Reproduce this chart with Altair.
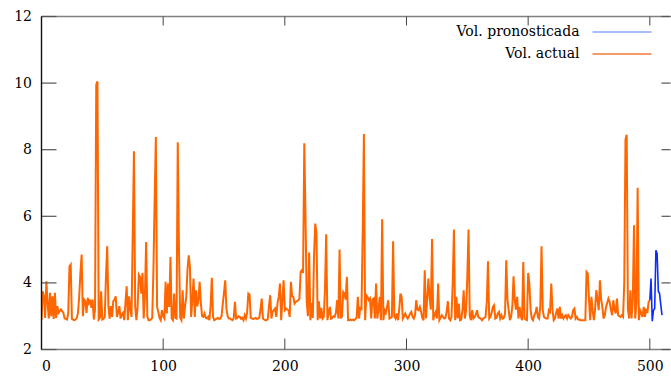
import altair as alt
import pandas as pd

# ---- data ----
actual_values = [
    2.88, 3.75, 3.6, 2.95, 4.05, 3.4, 2.93, 3.7, 3.0, 3.6,
    2.92, 3.7, 2.95, 3.3, 3.1, 3.15, 3.2, 3.15, 3.1, 2.93,
    2.92, 2.9, 3.1, 4.5, 4.55, 2.92, 2.9, 2.88, 2.9, 2.95,
    3.1, 3.6, 4.3, 4.85, 3.0, 3.5, 3.45, 3.1, 3.55, 3.4,
    3.5, 3.25, 3.5, 2.9, 3.2, 9.95, 10.05, 2.9, 2.95, 3.75,
    2.9, 2.92, 2.98, 4.2, 5.1, 3.3, 2.93, 3.3, 2.98, 3.45,
    3.5, 3.6, 2.98, 3.1, 3.3, 2.93, 3.05, 3.1, 2.88, 3.4,
    3.9, 2.88, 3.6, 3.2, 2.98, 5.5, 7.95, 3.3, 2.88, 3.28,
    4.25, 4.18, 3.68, 4.3, 2.93, 3.6, 5.23, 2.98, 2.88, 2.88,
    2.9, 2.95, 4.38, 6.5, 8.38, 3.28, 3.13, 2.95, 2.88, 3.18,
    3.0, 2.93, 4.03, 3.08, 3.98, 3.28, 4.78, 2.93, 2.88, 3.68,
    2.95, 2.93, 8.22, 5.0, 2.95, 2.88, 3.78, 2.93, 3.3, 3.58,
    4.4, 4.83, 4.48, 2.98, 3.5, 4.13, 2.98, 3.78, 3.3, 3.48,
    4.03, 3.38, 3.0, 2.98, 3.08, 2.95, 2.93, 2.98, 2.88, 3.3,
    4.15, 2.98, 2.88, 2.9, 2.93, 2.95, 2.92, 2.93, 3.0, 3.38,
    3.7, 4.08, 3.23, 3.0, 2.93, 2.93, 2.9, 2.88, 2.95, 3.43,
    2.93, 2.95, 3.0, 2.98, 2.92, 2.95, 2.88, 3.03, 2.93, 3.1,
    3.68, 3.65, 2.95, 2.93, 2.92, 2.93, 2.95, 2.92, 2.93, 2.95,
    3.2, 3.53, 2.93, 2.9, 2.88, 2.88, 2.92, 3.3, 3.63, 2.93,
    3.15, 3.18, 3.23, 2.98, 3.4, 3.58, 3.98, 2.88, 3.5, 4.08,
    3.18, 3.23, 3.2, 3.18, 2.98, 4.03, 3.6, 3.58, 3.38, 3.43,
    3.45, 3.48, 3.53, 4.33, 4.38, 4.3, 8.19, 6.0, 3.43, 3.0,
    4.91, 2.88, 3.4, 2.95, 4.8, 5.78, 5.5, 2.88, 3.45, 2.93,
    3.25, 2.93, 2.98, 3.8, 5.46, 2.88, 3.1, 3.28, 2.93, 2.95,
    3.0, 2.98, 3.1, 3.48, 2.93, 5.0, 2.93, 3.0, 3.73, 3.68,
    3.5, 4.18, 2.88, 2.88, 2.9, 2.88, 2.9, 2.88, 2.92, 2.95,
    3.58, 2.93, 3.28, 3.18, 5.5, 8.47, 2.88, 3.63, 3.58, 3.48,
    3.53, 2.93, 3.5, 3.53, 2.93, 3.98, 2.93, 3.2, 3.58, 2.88,
    5.91, 2.88, 3.18, 3.1, 3.28, 3.48, 2.93, 2.95, 2.98, 5.25,
    3.0, 2.93, 3.08, 2.88, 3.2, 3.68, 3.58, 2.93, 3.0, 3.08,
    2.98, 2.93, 3.0, 3.08, 3.13, 2.98, 2.93, 3.03, 3.48, 3.2,
    3.18, 3.28, 3.13, 2.95, 2.88, 4.38, 2.93, 3.5, 4.13, 3.58,
    3.2, 5.32, 2.88, 3.05, 3.13, 2.93, 3.98, 2.88, 2.95, 3.03,
    2.98, 2.93, 2.95, 3.13, 3.45, 2.93, 2.88, 2.98, 4.0, 5.6,
    2.88, 3.58, 2.93, 3.38, 2.88, 2.9, 3.18, 3.78, 2.93, 3.18,
    4.2, 5.6, 3.0, 2.88, 3.18, 2.93, 2.98, 3.05, 3.18, 2.98,
    2.95, 2.93, 2.88, 2.93, 2.95, 2.98, 3.43, 4.65, 2.93, 2.98,
    3.1, 3.28, 3.33, 2.93, 2.95, 3.08, 3.13, 2.93, 3.03, 2.93,
    2.95, 3.08, 4.68, 3.5, 3.18, 2.88, 2.98, 3.3, 4.2, 3.48,
    3.2, 3.58, 2.93, 3.28, 3.0, 2.88, 4.63, 2.93, 2.9, 2.88,
    4.3, 3.98, 3.2, 2.93, 2.88, 3.03, 3.1, 3.28, 2.98, 2.93,
    3.3, 5.1, 3.18, 2.98, 2.95, 2.93, 2.93, 3.18, 3.13, 3.98,
    3.2, 2.88, 2.93, 3.1, 3.23, 2.93, 3.28, 2.93, 3.03, 2.93,
    3.0, 3.03, 2.93, 3.03, 2.98, 2.93, 2.98, 3.18, 3.23, 2.93,
    2.98, 2.9, 2.9, 2.88, 2.88, 2.88, 2.88, 2.88, 4.33, 4.28,
    3.5, 2.88, 3.58, 3.18, 2.88, 3.2, 3.78, 3.5, 3.18, 4.08,
    3.5, 3.28, 2.93, 3.03, 3.28, 3.4, 3.53, 3.43, 3.2, 3.03,
    3.48, 3.2, 3.08, 3.53, 3.03, 3.0, 2.98, 3.03, 2.98, 4.0,
    8.3, 8.45, 3.2, 2.93, 3.78, 2.93, 3.5, 5.73, 2.93, 3.4,
    6.86, 2.88, 3.18, 3.1, 2.98, 3.28, 2.98, 3.23, 3.1, 3.43,
    3.48,
]
forecast_start = 500
forecast_values = [3.48, 4.13, 2.85, 3.18, 3.23, 4.98, 4.88, 3.75, 3.68, 3.35, 3.03]

series_labels = ["Vol. pronosticada", "Vol. actual"]
series_colors = ["#0a2cff", "#ff6600"]
legend_colors = ["#8aa4ff", "#f07a3a"]
x_ticks = [0, 100, 200, 300, 400, 500]
y_ticks = [2, 4, 6, 8, 10, 12]

actual_df = pd.DataFrame({"t": list(range(len(actual_values))), "v": actual_values})
forecast_df = pd.DataFrame({"t": list(range(forecast_start, forecast_start + len(forecast_values))),
                            "v": forecast_values})
xtick_df = pd.DataFrame({"t": x_ticks})
ytick_df = pd.DataFrame({"v": y_ticks})

W, H = 629, 333
FONT = "DejaVu Serif"
FS = 14

xs = alt.Scale(domain=[0, 517], nice=False, zero=False)
ys = alt.Scale(domain=[2, 12], nice=False, zero=False)

x_axis = alt.Axis(values=x_ticks, ticks=False, tickSize=0, domain=False, grid=False,
                  labelFont=FONT, labelFontSize=FS, labelColor="#000", labelPadding=10,
                  labelAngle=0, format="d", title=None)
y_axis = alt.Axis(values=y_ticks, ticks=False, tickSize=0, domain=False, grid=False,
                  labelFont=FONT, labelFontSize=FS, labelColor="#000", labelPadding=10,
                  format="d", title=None)

actual_line = alt.Chart(actual_df).mark_line(color=series_colors[1], strokeWidth=2, clip=True).encode(
    x=alt.X("t:Q", scale=xs, axis=x_axis),
    y=alt.Y("v:Q", scale=ys, axis=y_axis),
)
forecast_line = alt.Chart(forecast_df).mark_line(color=series_colors[0], strokeWidth=1.6, clip=True).encode(
    x=alt.X("t:Q", scale=xs),
    y=alt.Y("v:Q", scale=ys),
)

tick_color = "#444"
bottom_ticks = alt.Chart(xtick_df).mark_rule(color=tick_color, strokeWidth=1).encode(
    x=alt.X("t:Q", scale=xs), y=alt.value(H), y2=alt.value(H - 11))
top_ticks = alt.Chart(xtick_df).mark_rule(color=tick_color, strokeWidth=1).encode(
    x=alt.X("t:Q", scale=xs), y=alt.value(0), y2=alt.value(9))
left_ticks = alt.Chart(ytick_df).mark_rule(color="#555", strokeWidth=1.2).encode(
    y=alt.Y("v:Q", scale=ys), x=alt.value(0), x2=alt.value(15))
right_ticks = alt.Chart(ytick_df).mark_rule(color="#555", strokeWidth=1.2).encode(
    y=alt.Y("v:Q", scale=ys), x=alt.value(W - 9), x2=alt.value(W))

border_df = pd.DataFrame({"k": [0]})
left_border = alt.Chart(border_df).mark_rule(color="#111", strokeWidth=1.4).encode(
    x=alt.value(0), y=alt.value(0), y2=alt.value(H))
bottom_border = alt.Chart(border_df).mark_rule(color="#808080", strokeWidth=1.5).encode(
    x=alt.value(0), x2=alt.value(W), y=alt.value(H))
top_border = alt.Chart(border_df).mark_rule(color="#808080", strokeWidth=1.5).encode(
    x=alt.value(0), x2=alt.value(W), y=alt.value(0))

legend_layers = []
for i, (lab, col) in enumerate(zip(series_labels, legend_colors)):
    ldf = pd.DataFrame({"label": [lab]})
    yy = 15.5 + 22 * i
    legend_layers.append(
        alt.Chart(ldf).mark_text(align="right", baseline="middle", font=FONT, fontSize=FS, color="#000").encode(
            x=alt.value(538), y=alt.value(yy), text="label:N"))
    legend_layers.append(
        alt.Chart(ldf).mark_rule(color=col, strokeWidth=1.3).encode(
            x=alt.value(551), x2=alt.value(610), y=alt.value(yy)))

chart = alt.layer(
    top_border, bottom_border,
    actual_line, forecast_line,
    bottom_ticks, top_ticks, left_ticks, right_ticks,
    left_border,
    *legend_layers,
).properties(
    width=W, height=H,
    padding={"left": 41.5, "top": 16.5, "right": 0, "bottom": 33.5},
    autosize=alt.AutoSizeParams(type="none"),
    background="white",
).configure_view(stroke=None)

chart.save("out.html", embed_options={"renderer": "svg", "actions": False})
